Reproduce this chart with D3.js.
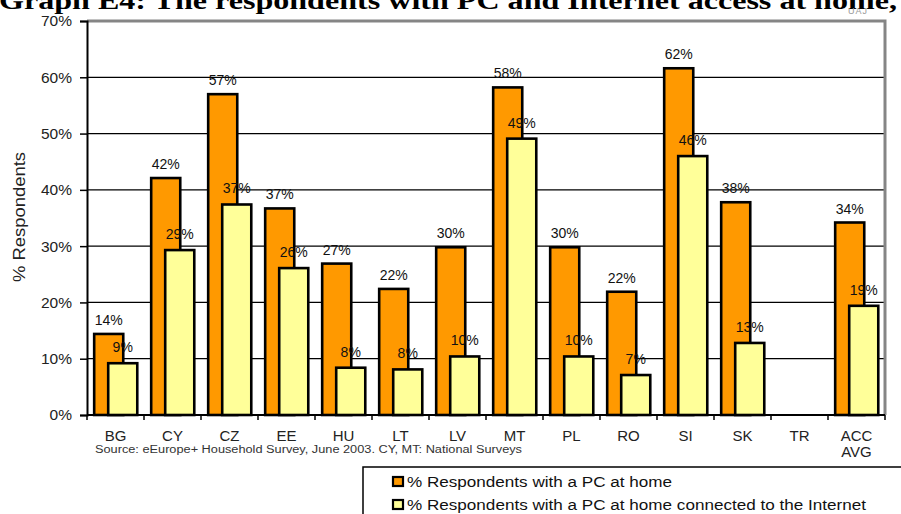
<!DOCTYPE html>
<html>
<head>
<meta charset="utf-8">
<script src="https://cdn.jsdelivr.net/npm/d3@7"></script>
<style>
  html, body { margin: 0; padding: 0; background: #fff; }
  svg { display: block; font-family: "Liberation Sans", Arial, sans-serif; }
</style>
</head>
<body>
<svg id="chart" width="901" height="514"></svg>
<script>
// Countries surveyed (plus the accession-country average)
const categories = ["BG", "CY", "CZ", "EE", "HU", "LT", "LV", "MT", "PL", "RO", "SI", "SK", "TR", "ACC AVG"];
// % respondents with a PC at home
const pcAtHome = [14.4, 42.1, 57.0, 36.7, 26.9, 22.4, 29.8, 58.2, 29.8, 21.9, 61.6, 37.8, null, 34.2];
// % respondents with a PC at home connected to the Internet
const pcWithInternet = [9.2, 29.3, 37.4, 26.1, 8.4, 8.1, 10.4, 49.1, 10.4, 7.1, 46.0, 12.8, null, 19.4];
const yTicks = [0, 10, 20, 30, 40, 50, 60, 70];
const seriesNames = ["% Respondents with a PC at home", "% Respondents with a PC at home connected to the Internet"];
const titleText = "Graph E4: The respondents with PC and Internet access at home,";
const sourceText = "Source: eEurope+ Household Survey, June 2003. CY, MT: National Surveys";

(function draw() {
  const colors = ["#FF9900", "#FFFF99"];
  const svg = d3.select("#chart");

  const plotLeft = 87, plotRight = 885, plotTop = 21, plotBottom = 415;
  const x = d3.scaleBand().domain(categories).range([plotLeft, plotRight]).padding(0);
  const y = d3.scaleLinear().domain([0, 70]).range([plotBottom, plotTop]);
  const bw = x.bandwidth();
  // Overlapping clustered bars: offsets as fractions of each band
  const barW = bw * 0.51;
  const offsets = [bw * 0.126, bw * 0.372];

  // Title (runs off the top edge of the page)
  svg.append("text")
    .attr("x", -1).attr("y", 9)
    .attr("textLength", 898).attr("lengthAdjust", "spacingAndGlyphs")
    .style("font-family", "'Liberation Serif', 'Times New Roman', serif")
    .style("font-weight", "bold").style("font-size", "26px")
    .text(titleText);

  svg.append("text")
    .attr("x", 858).attr("y", 14).attr("text-anchor", "middle")
    .style("font-size", "9px").style("fill", "#999").style("letter-spacing", "1px")
    .text("UAJ");

  // Gridlines
  svg.append("g")
    .selectAll("line").data(yTicks.filter(t => t > 0 && t < 70)).join("line")
    .attr("x1", plotLeft).attr("x2", plotRight)
    .attr("y1", d => y(d)).attr("y2", d => y(d))
    .attr("stroke", "#000").attr("stroke-width", 1.3);

  // Plot frame: top and right edges
  svg.append("path")
    .attr("d", `M${plotLeft},${y(70)}H${plotRight}V${plotBottom}`)
    .attr("fill", "none").attr("stroke", "#858585").attr("stroke-width", 3);

  // Bars
  const series = [pcAtHome, pcWithInternet];
  series.forEach((vals, s) => {
    svg.append("g").selectAll("rect")
      .data(categories.map((c, i) => ({ c, v: vals[i] })).filter(d => d.v != null))
      .join("rect")
      .attr("x", d => x(d.c) + offsets[s])
      .attr("width", barW)
      .attr("y", d => y(d.v))
      .attr("height", d => y(0) - y(d.v))
      .attr("fill", colors[s])
      .attr("stroke", "#000").attr("stroke-width", 2.6);
  });

  // Value labels
  const fmt = v => d3.format(".0f")(v) + "%";
  series.forEach((vals, s) => {
    svg.append("g").selectAll("text")
      .data(categories.map((c, i) => ({ c, v: vals[i] })).filter(d => d.v != null))
      .join("text")
      .attr("x", d => x(d.c) + offsets[s] + barW / 2)
      .attr("y", d => y(d.v) - (s === 0 ? 9 : 11))
      .attr("text-anchor", "middle")
      .style("font-size", "14px").style("fill", "#111")
      .text(d => fmt(d.v));
  });

  // Y axis
  const yAxis = svg.append("g")
    .attr("transform", `translate(${plotLeft},0)`)
    .call(d3.axisLeft(y).tickValues(yTicks).tickSize(7).tickPadding(8).tickFormat(d => d + "%"));
  yAxis.select(".domain").attr("stroke", "#000").attr("stroke-width", 2);
  yAxis.selectAll(".tick line").attr("stroke", "#000").attr("stroke-width", 1.5);
  yAxis.selectAll(".tick text")
    .style("font-size", "15.5px").style("font-family", "'Liberation Sans', Arial, sans-serif").attr("fill", "#222");

  // X axis line and ticks at band boundaries
  svg.append("line")
    .attr("x1", plotLeft).attr("x2", plotRight).attr("y1", plotBottom).attr("y2", plotBottom)
    .attr("stroke", "#000").attr("stroke-width", 2);
  svg.append("g").selectAll("line")
    .data(categories.map(c => x(c)).concat([plotRight])).join("line")
    .attr("x1", d => d).attr("x2", d => d)
    .attr("y1", plotBottom).attr("y2", plotBottom + 5)
    .attr("stroke", "#000").attr("stroke-width", 1.5);

  // Category labels
  const cat = svg.append("g").selectAll("text").data(categories).join("text")
    .attr("x", d => x(d) + bw / 2).attr("y", 441)
    .attr("text-anchor", "middle")
    .style("font-size", "15px").style("fill", "#222");
  cat.each(function (d) {
    const parts = d.split(" ");
    d3.select(this).selectAll("tspan").data(parts).join("tspan")
      .attr("x", x(d) + bw / 2).attr("dy", (p, i) => i === 0 ? 0 : 15.5)
      .text(p => p);
  });

  // Axis title
  svg.append("text")
    .attr("transform", "translate(25,217) rotate(-90)")
    .attr("text-anchor", "middle")
    .attr("textLength", 130).attr("lengthAdjust", "spacingAndGlyphs")
    .style("font-size", "17px").style("fill", "#222")
    .text("% Respondents");

  // Source note
  svg.append("text")
    .attr("x", 95).attr("y", 453)
    .attr("textLength", 427).attr("lengthAdjust", "spacingAndGlyphs")
    .style("font-size", "10px").style("fill", "#333")
    .text(sourceText);

  // Legend
  svg.append("rect")
    .attr("x", 363).attr("y", 467).attr("width", 560).attr("height", 60)
    .attr("fill", "#fff").attr("stroke", "#000").attr("stroke-width", 1.5);
  const legendRows = [{ y: 487, len: 265 }, { y: 510, len: 459 }];
  seriesNames.forEach((name, i) => {
    const r = legendRows[i];
    svg.append("rect")
      .attr("x", 393).attr("y", r.y - 10).attr("width", 10).attr("height", 9)
      .attr("fill", colors[i]).attr("stroke", "#000").attr("stroke-width", 2.2);
    svg.append("text")
      .attr("x", 407).attr("y", r.y)
      .attr("textLength", r.len).attr("lengthAdjust", "spacingAndGlyphs")
      .style("font-size", "14px").style("fill", "#111")
      .text(name);
  });
})();
</script>
</body>
</html>
